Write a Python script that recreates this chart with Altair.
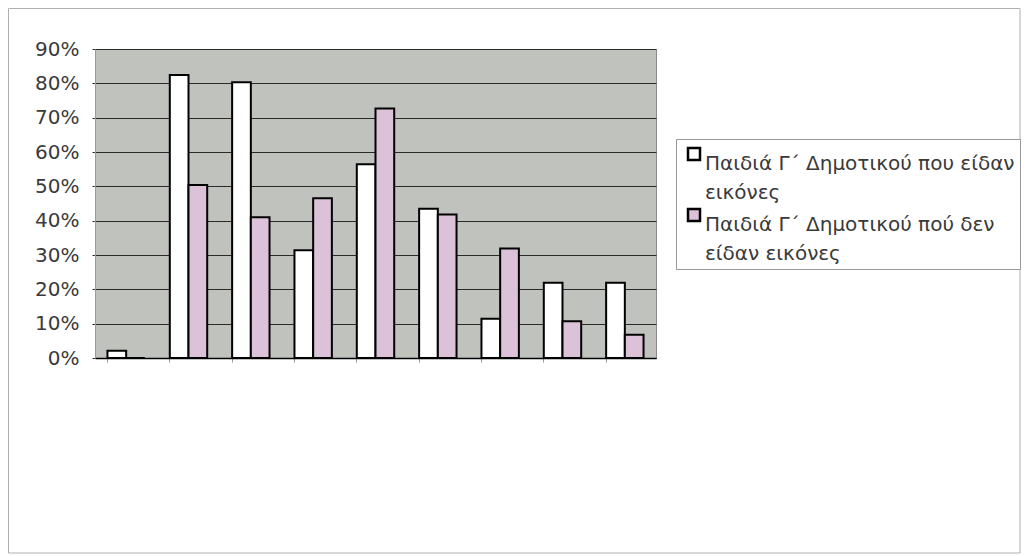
import altair as alt
import pandas as pd

categories = ["1", "2", "3", "4", "5", "6", "7", "8", "9"]
series = ["Παιδιά Γ΄ Δημοτικού που είδαν εικόνες", "Παιδιά Γ΄ Δημοτικού πού δεν είδαν εικόνες"]
label_lines = [["Παιδιά Γ΄ Δημοτικού που είδαν", "εικόνες"], ["Παιδιά Γ΄ Δημοτικού πού δεν", "είδαν εικόνες"]]
seen = [0.021, 0.824, 0.803, 0.314, 0.564, 0.435, 0.114, 0.219, 0.219]
not_seen = [0.0, 0.504, 0.41, 0.465, 0.727, 0.418, 0.319, 0.107, 0.068]
y_ticks = [0, 0.1, 0.2, 0.3, 0.4, 0.5, 0.6, 0.7, 0.8, 0.9]
colors = ["#ffffff", "#dcc2d8"]

rows = []
for c, a, b in zip(categories, seen, not_seen):
    rows.append({"cat": c, "series": series[0], "value": a})
    rows.append({"cat": c, "series": series[1], "value": b})
df = pd.DataFrame(rows)

W, H = 561, 309
PL, PT, PR, PB = 87, 41, 365, 196
FONT = "DejaVu Sans"

def js_list(lst):
    return "[" + ", ".join("'" + s + "'" for s in lst) + "]"

label_expr = ("datum.label == '" + series[0] + "' ? " + js_list(label_lines[0]) +
              " : " + js_list(label_lines[1]))

bars = alt.Chart(df).mark_bar(stroke="#000000", strokeWidth=2).encode(
    x=alt.X("cat:N", sort=categories, title=None,
            scale=alt.Scale(paddingInner=0.4, paddingOuter=0.2),
            axis=alt.Axis(labels=False, ticks=True, tickSize=4, tickColor="#999999",
                          bandPosition=0, domainColor="#000000", domainWidth=1.5,
                          grid=False)),
    xOffset=alt.XOffset("series:N", sort=series),
    y=alt.Y("value:Q", title=None,
            scale=alt.Scale(domain=[0, 0.9], nice=False),
            axis=alt.Axis(values=y_ticks, format=".0%", labelFontSize=20,
                          labelFont=FONT, labelColor="#3a3a3a", labelPadding=13,
                          tickSize=3, tickColor="#333333", domainColor="#999999",
                          gridColor="#2a2a2a", gridWidth=1, gridOpacity=1)),
    color=alt.Color("series:N", sort=series,
                    scale=alt.Scale(domain=series, range=colors),
                    legend=alt.Legend(orient="none", legendX=581, legendY=90, title=None,
                                      labelFont=FONT, labelFontSize=20, labelColor="#3a3a3a",
                                      labelExpr=label_expr,
                                      labelLimit=400, labelBaseline="top",
                                      symbolType="square", symbolSize=144,
                                      symbolStrokeColor="#000000", symbolStrokeWidth=2.5,
                                      symbolOpacity=1, labelOffset=1, symbolOffset=3,
                                      rowPadding=1, padding=5,
                                      strokeColor="#999999", fillColor="#ffffff")),
)

frame = alt.Chart(pd.DataFrame({"a": [0]})).mark_rect(
    fill=None, stroke="#b0b0b0", strokeWidth=1
).encode(
    x=alt.value(-PL + 0.5), x2=alt.value(W + PR - 1),
    y=alt.value(-PT + 0.5), y2=alt.value(H + PB - 1),
)

chart = alt.layer(frame, bars).properties(
    width=W, height=H,
    autosize=alt.AutoSizeParams(type="none"),
    padding={"left": PL, "top": PT, "right": PR, "bottom": PB},
    background="#ffffff",
).configure(
    style={"guide-label": {"lineHeight": 29}},
).configure_view(
    fill="#c0c2bd", stroke="#8a8a8a", strokeWidth=1
)

chart.save("out.html", embed_options={"renderer": "svg", "actions": False})
